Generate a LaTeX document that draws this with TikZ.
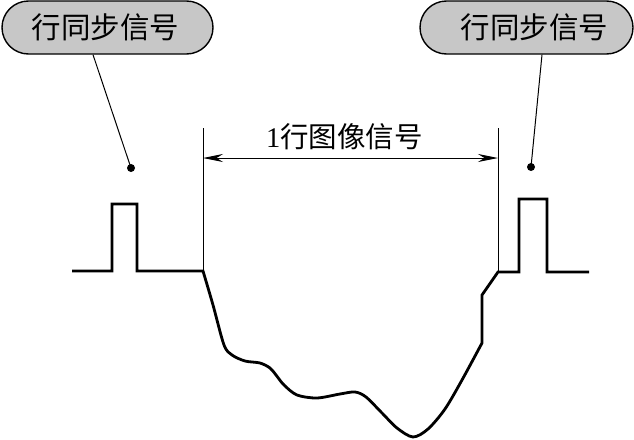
\documentclass[tikz,border=0pt]{standalone}
\usepackage{fontspec}
\setmainfont{Liberation Serif}
\newfontfamily\cjk{Noto Sans CJK SC}
\usetikzlibrary{shapes.misc,arrows.meta,calc}
\tikzset{
  bubble/.style={rounded rectangle, draw=black, line width=1.4pt, fill=black!22,
    minimum height=53pt, inner sep=0pt, font=\cjk\fontsize{29.5}{32}\selectfont},
  leader/.style={line width=1pt},
  dotmark/.style={circle, fill=black, inner sep=0pt, minimum size=8pt},
  thin/.style={line width=1pt},
  wave/.style={line width=2.8pt, line join=miter},
  dim/.style={line width=1pt, {Stealth[length=20pt,width=8pt]}-{Stealth[length=20pt,width=8pt]}},
  lbl/.style={inner sep=0pt, font=\fontsize{28.5}{31}\selectfont}
}
\begin{document}
\begin{tikzpicture}[x=1pt,y=-1pt]
\useasboundingbox (0,0) rectangle (634,439);
% bubbles
\node[bubble, minimum width=211pt] (bubL) at (107.5,27.5) {\hspace{-4pt}行同步信号};
\node[bubble, minimum width=213pt] (bubR) at (526.5,27.5) {\hspace{16pt}行同步信号};
% dots
\node[dotmark] (dotL) at (131,168) {};
\node[dotmark] (dotR) at (531,167) {};
\draw[leader] ($(bubL.south)+(-14.5,0)$) -- (dotL.center);
\draw[leader] ($(bubR.south)+(15.5,0)$) -- (dotR.center);
% dimension lines
\coordinate (vLt) at (203,128);
\coordinate (vLb) at (203,271);
\coordinate (vRt) at (498,128);
\coordinate (vRb) at (498,272);
\draw[thin] (vLt) -- (vLb);
\draw[thin] (vRt) -- (vRb);
\coordinate (aL) at (203,158);
\coordinate (aR) at (498,158);
\draw[dim] (aL) -- (aR);
\node[lbl] (title) at (344.5,137) {1{\cjk 行图像信号}};
% waveform
\draw[wave] (72,271) -| (112,204) -| (137,271) -- (vLb)
  -- plot[smooth, tension=0.5] coordinates {(203,271) (213,305) (224,345) (232,355) (245,361) (260,363) (270,368) (276,375) (284,385) (297,395) (317,398) (340,394) (355,392) (366,397) (382,413) (397,428) (413,437) (428,429) (445,409) (462,380) (482,343)}
  -- (482,295) -- (vRb) -- (519,272) |- (547,199) |- (589,272);
\end{tikzpicture}
\end{document}
